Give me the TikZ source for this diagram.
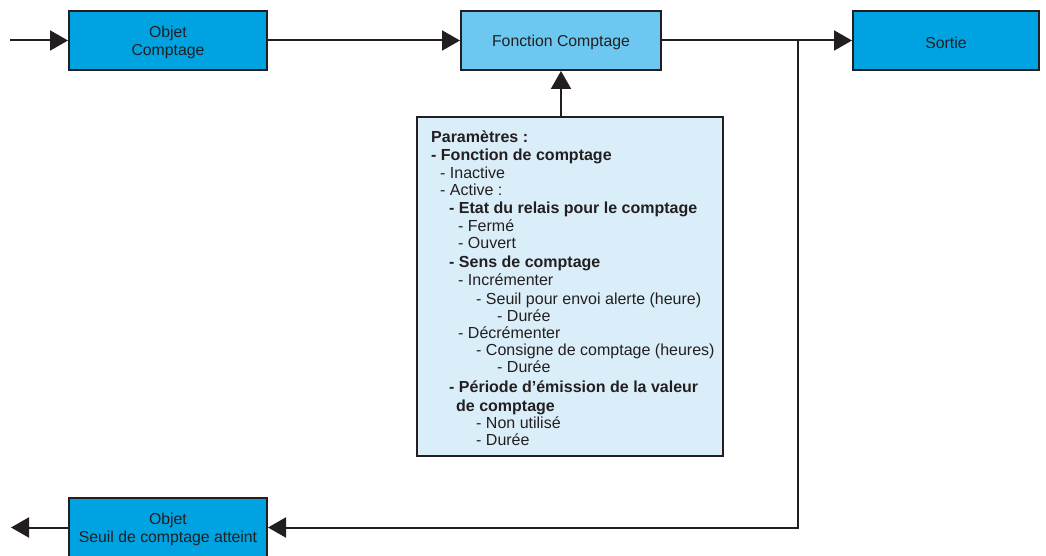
\documentclass[tikz,border=0pt]{standalone}
\usepackage{fontspec}
\setmainfont{Liberation Sans}
\usetikzlibrary{arrows.meta}
\definecolor{bluedark}{HTML}{00A3E2}
\definecolor{bluemid}{HTML}{6CC8F0}
\definecolor{bluepale}{HTML}{DAEEF9}
\definecolor{ink}{HTML}{231F20}
\begin{document}
\begin{tikzpicture}[x=1pt,y=-1pt,
  box/.style={draw=ink, line width=2pt, minimum width=198pt, minimum height=59pt,
    inner sep=0pt},
  boxlabel/.style={align=center, inner sep=0pt, yshift=-2pt,
    font=\fontsize{15.8}{18.5}\selectfont, text=ink},
  parambox/.style={draw=ink, line width=2pt, fill=bluepale, minimum width=306pt,
    minimum height=339pt, inner sep=0pt},
  ptext/.style={font=\fontsize{16}{17.3}\selectfont, text=ink, inner sep=0pt, anchor=base west},
  conn/.style={draw=ink, line width=2pt},
  tip/.style={-{Triangle[length=18pt,width=20pt]}}]
\useasboundingbox (0,0) rectangle (1046,556);
\clip (0,0) rectangle (1046,556);
% boxes
\node[box, fill=bluedark, label={[boxlabel]center:Objet\\Comptage}] (objin) at (168,40.5) {};
\node[box, fill=bluemid, minimum width=200pt, label={[boxlabel]center:Fonction Comptage}] (fonc) at (561,40.5) {};
\node[box, fill=bluedark, minimum width=186pt, label={[boxlabel]center:Sortie}] (sortie) at (946,40.5) {};
\node[box, fill=bluedark, label={[boxlabel]center:Objet\\Seuil de comptage atteint}] (seuil) at (168,527.5) {};
\node[parambox] (params) at (570,286.5) {};
% parameter text
\foreach \n/\dx/\yy/\t in {
  1/0/142.5/{\bfseries Paramètres :},
  2/0/160.5/{\bfseries - Fonction de comptage},
  3/9/178.5/{- Inactive},
  4/9/195.5/{- Active :},
  5/18/213.5/{\bfseries - Etat du relais pour le comptage},
  6/27/231.5/{- Fermé},
  7/27/248.5/{- Ouvert},
  8/18/267.5/{\bfseries - Sens de comptage},
  9/27/285.5/{- Incrémenter},
  10/45/304.5/{- Seuil pour envoi alerte (heure)},
  11/66/321.5/{- Durée},
  12/27/338.5/{- Décrémenter},
  13/45/355.5/{- Consigne de comptage (heures)},
  14/66/372.5/{- Durée},
  15/18/392.5/{\bfseries - Période d’émission de la valeur},
  16/25/411.5/{\bfseries de comptage},
  17/45/428.5/{- Non utilisé},
  18/45/445.5/{- Durée}}
  \node[ptext] (pl\n) at (431+\dx,\yy) {\t};
% connectors
\coordinate (inL) at (10,40.5);
\coordinate (outL) at (11,527.5);
\coordinate (branch) at (798,40.5);
\draw[conn,tip] (inL) -- (objin.west);
\draw[conn,tip] (objin.east) -- (fonc.west);
\draw[conn,tip] (fonc.east) -- (sortie.west);
\draw[conn,tip] (branch) |- (seuil.east);
\draw[conn,tip] (seuil.west) -- (outL);
\draw[conn,tip] (fonc.south |- params.north) -- (fonc.south);
\end{tikzpicture}
\end{document}
